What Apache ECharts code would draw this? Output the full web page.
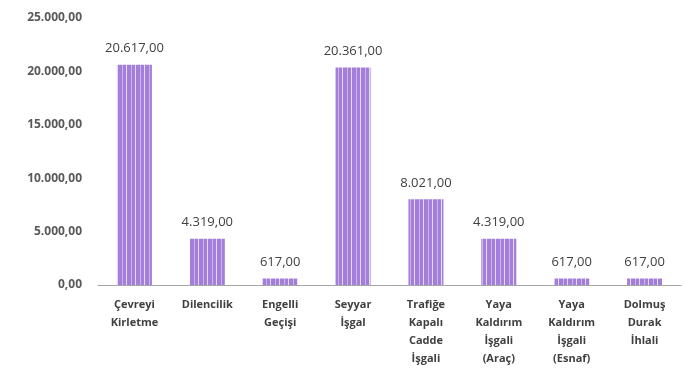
<!DOCTYPE html>
<html><head><meta charset="utf-8">
<script src="https://cdn.jsdelivr.net/npm/echarts@6/dist/echarts.min.js"></script>
<style>html,body{margin:0;padding:0;background:#fff}#c{width:684px;height:376px}</style>
</head><body><div id="c"></div>
<script>
const categories = ["Çevreyi\nKirletme", "Dilencilik", "Engelli\nGeçişi", "Seyyar\nİşgal", "Trafiğe\nKapalı\nCadde\nİşgali", "Yaya\nKaldırım\nİşgali\n(Araç)", "Yaya\nKaldırım\nİşgali\n(Esnaf)", "Dolmuş\nDurak\nİhlali"];
const values = [20617, 4319, 617, 20361, 8021, 4319, 617, 617];
const yTicks = [0, 5000, 10000, 15000, 20000, 25000];

function fmt(v) {
  const s = Math.round(v).toString().replace(/\B(?=(\d{3})+(?!\d))/g, '.');
  return s + ',00';
}

const pc = document.createElement('canvas');
pc.width = 9; pc.height = 4;
const g = pc.getContext('2d');
g.fillStyle = '#a47fda'; g.fillRect(0, 0, 9, 4);
g.fillStyle = '#e6d9f7'; g.fillRect(0, 0, 1, 4);
g.fillStyle = '#cbb3f0'; g.fillRect(5, 0, 1, 4);

const chart = echarts.init(document.getElementById('c'), null, {renderer: 'canvas'});
chart.setOption({
  animation: false,
  grid: {left: 98, right: 3, top: 18, bottom: 91},
  xAxis: {
    type: 'category', data: categories,
    axisLine: {lineStyle: {color: '#a6a6a6', width: 1}},
    axisTick: {show: false},
    axisLabel: {interval: 0, color: '#404040', fontFamily: 'Open Sans', fontWeight: 'bold', fontSize: 11, lineHeight: 18, margin: 11}
  },
  yAxis: {
    type: 'value', min: 0, max: 25000, interval: 5000,
    splitLine: {show: false},
    axisLine: {show: false}, axisTick: {show: false},
    axisLabel: {color: '#595959', fontFamily: 'Open Sans', fontWeight: 'bold', fontSize: 12, margin: 16, formatter: v => fmt(v)}
  },
  series: [{
    type: 'bar', data: values, barWidth: 35,
    itemStyle: {color: {image: pc, repeat: 'repeat'}},
    label: {show: true, position: 'top', distance: 10, color: '#404040', fontFamily: 'Open Sans', fontSize: 13, formatter: p => fmt(p.value)}
  }]
});
</script></body></html>
